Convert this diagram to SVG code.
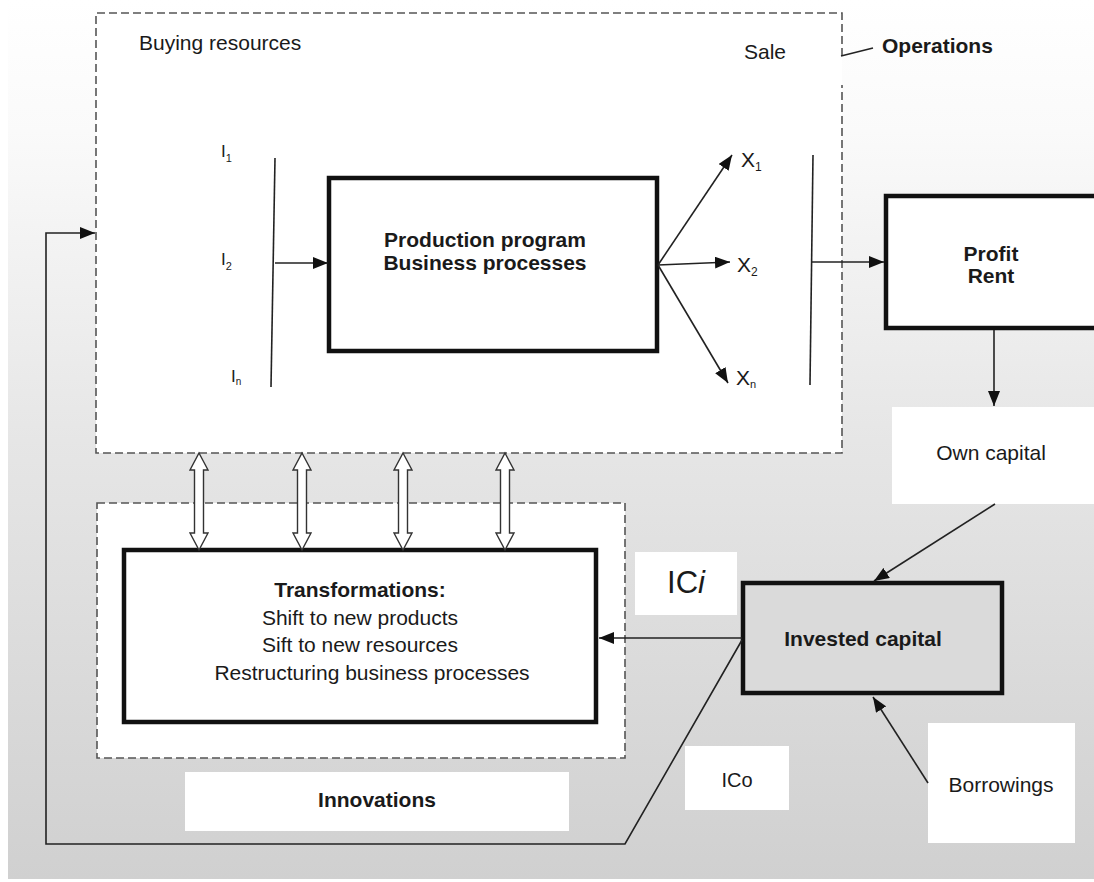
<svg xmlns="http://www.w3.org/2000/svg" width="1094" height="882" viewBox="0 0 1094 882">
  <defs>
    <linearGradient id="bg" x1="0" y1="0" x2="0" y2="1">
      <stop offset="0" stop-color="#ffffff"/>
      <stop offset="0.15" stop-color="#fafafa"/>
      <stop offset="0.5" stop-color="#e6e6e6"/>
      <stop offset="1" stop-color="#d0d0d0"/>
    </linearGradient>
    <marker id="ah" markerUnits="userSpaceOnUse" markerWidth="15" markerHeight="12" refX="15" refY="6" orient="auto">
      <path d="M0,0 L15,6 L0,12 z" fill="#111"/>
    </marker>
    <style>
      text { font-family: "Liberation Sans", Arial, sans-serif; fill: #1a1a1a; }
      .b { font-weight: bold; }
      .c { text-anchor: middle; }
      .box { fill: #ffffff; stroke: #111; stroke-width: 4.5; }
      .dash { fill: none; stroke: #555; stroke-width: 1.6; stroke-dasharray: 8 4; }
      .ln { fill: none; stroke: #222; stroke-width: 1.6; }
      .arr { fill: none; stroke: #222; stroke-width: 1.6; marker-end: url(#ah); }
      .plain { fill: #ffffff; stroke: none; }
      .dbl { fill: #ffffff; stroke: #333; stroke-width: 1.4; }
    </style>
  </defs>

  <rect x="8" y="0" width="1086" height="879" fill="url(#bg)"/>

  <g id="operations">
    <rect x="96" y="13" width="746" height="440" fill="#ffffff"/>
    <path class="dash" d="M842,56 L842,13 L96,13 L96,453 L842,453 L842,85"/>
    <text x="139" y="50" font-size="21">Buying resources</text>
    <text x="744" y="59" font-size="21">Sale</text>
    <text x="882" y="53" font-size="21" class="b">Operations</text>
    <text x="221" y="157" font-size="17">I<tspan font-size="11" dy="5">1</tspan></text>
    <text x="221" y="265" font-size="17">I<tspan font-size="11" dy="5">2</tspan></text>
    <text x="231" y="382" font-size="17">I<tspan font-size="10" dy="3">n</tspan></text>
    <text x="741" y="167" font-size="21">X<tspan font-size="12" dy="4">1</tspan></text>
    <text x="737" y="272" font-size="21">X<tspan font-size="12" dy="4">2</tspan></text>
    <text x="736" y="385" font-size="21">X<tspan font-size="11" dy="3">n</tspan></text>
  </g>

  <g id="production">
    <rect class="box" x="329" y="178" width="328" height="173"/>
    <text x="485" y="247" font-size="21" class="b c">Production program</text>
    <text x="485" y="270" font-size="21" class="b c">Business processes</text>
  </g>

  <g id="profit">
    <rect class="box" x="886" y="196" width="212" height="132"/>
    <text x="991" y="261" font-size="21" class="b c">Profit</text>
    <text x="991" y="283" font-size="21" class="b c">Rent</text>
  </g>

  <g id="own-capital">
    <rect class="plain" x="892" y="407" width="202" height="97"/>
    <text x="991" y="460" font-size="21" class="c">Own capital</text>
  </g>

  <g id="innovations-area">
    <rect x="97" y="503" width="528" height="255" fill="#ffffff"/>
    <rect class="dash" x="97" y="503" width="528" height="255"/>
  </g>

  <g id="transformations">
    <rect class="box" x="124" y="550" width="472" height="172"/>
    <text x="360" y="597" font-size="21" class="b c">Transformations:</text>
    <text x="360" y="625" font-size="21" class="c">Shift to new products</text>
    <text x="360" y="652" font-size="21" class="c">Sift to new resources</text>
    <text x="372" y="680" font-size="21" class="c">Restructuring business processes</text>
  </g>

  <g id="innovations">
    <rect class="plain" x="185" y="772" width="384" height="59"/>
    <text x="377" y="807" font-size="21" class="b c">Innovations</text>
  </g>

  <g id="ici">
    <rect class="plain" x="635" y="552" width="102" height="63"/>
    <text x="686" y="593" font-size="31" class="c">IC<tspan font-style="italic">i</tspan></text>
  </g>

  <g id="invested-capital">
    <rect x="743" y="583" width="259" height="110" fill="#dadada" stroke="#111" stroke-width="4.5"/>
    <text x="863" y="646" font-size="21" class="b c">Invested capital</text>
  </g>

  <g id="ico">
    <rect class="plain" x="685" y="746" width="104" height="64"/>
    <text x="737" y="787" font-size="20" class="c">ICo</text>
  </g>

  <g id="borrowings">
    <rect class="plain" x="928" y="723" width="147" height="120"/>
    <text x="1001" y="792" font-size="21" class="c">Borrowings</text>
  </g>

  <g id="connectors">
    <line class="ln" x1="841" y1="56" x2="873" y2="48"/>
    <line class="ln" x1="275" y1="158" x2="271" y2="387"/>
    <line class="arr" x1="275" y1="263" x2="328" y2="263"/>
    <line class="arr" x1="658" y1="265" x2="732" y2="155"/>
    <line class="arr" x1="658" y1="265" x2="730" y2="262"/>
    <line class="arr" x1="658" y1="265" x2="728" y2="383"/>
    <line class="ln" x1="813" y1="155" x2="810" y2="385"/>
    <line class="arr" x1="812" y1="262" x2="884" y2="262"/>
    <line class="arr" x1="994" y1="330" x2="994" y2="406"/>
    <line class="arr" x1="995" y1="504" x2="874" y2="581"/>
    <line class="arr" x1="928" y1="783" x2="873" y2="697"/>
    <line class="arr" x1="742" y1="638" x2="599" y2="638"/>
    <polyline class="arr" points="742,640 625,844 46,844 46,233 95,233"/>
    <g id="double-arrows">
      <polygon class="dbl" points="199,453 208,470 203.5,470 203.5,533 208,533 199,550 190,533 194.5,533 194.5,470 190,470"/>
      <polygon class="dbl" points="302,453 311,470 306.5,470 306.5,533 311,533 302,550 293,533 297.5,533 297.5,470 293,470"/>
      <polygon class="dbl" points="403,453 412,470 407.5,470 407.5,533 412,533 403,550 394,533 398.5,533 398.5,470 394,470"/>
      <polygon class="dbl" points="505,453 514,470 509.5,470 509.5,533 514,533 505,550 496,533 500.5,533 500.5,470 496,470"/>
    </g>
  </g>
</svg>
